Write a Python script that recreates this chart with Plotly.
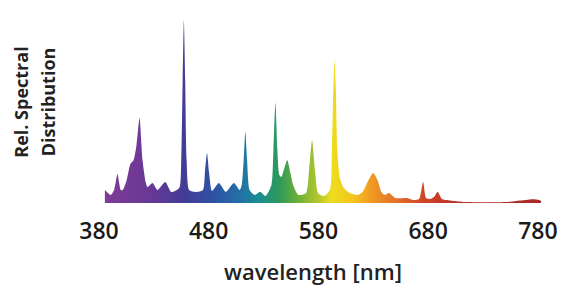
import plotly.graph_objects as go

# Wavelength (nm) and relative spectral distribution (peak = 100)
wavelength = [
    385.4, 390.8, 393.8, 396.9, 399.9, 401.7, 405.3, 408.6, 411.6, 414.3,
    417.0, 419.7, 422.5, 424.3, 428.8, 433.3, 440.5, 445.9, 453.2, 455.0,
    456.3, 457.4, 458.6, 459.9, 462.2, 468.5, 474.8, 476.7, 478.5, 480.3,
    483.0, 489.3, 495.6, 502.9, 508.3, 510.1, 511.9, 513.4, 515.0, 517.3,
    521.8, 527.0, 531.8, 537.2, 539.0, 540.8, 542.6, 544.4, 546.2, 548.9,
    551.6, 554.3, 557.0, 561.6, 568.8, 571.5, 574.2, 576.9, 579.6, 585.1,
    590.5, 592.3, 593.6, 594.7, 595.9, 597.2, 599.5, 603.1, 608.5, 615.8,
    620.3, 624.8, 629.9, 633.8, 637.4, 640.2, 644.4, 650.1, 660.9, 666.4,
    671.8, 675.4, 678.1, 681.7, 685.3, 688.7, 692.5, 697.1, 703.1, 715.1,
    733.2, 751.3, 760.3, 769.3, 775.4, 781.1, 782.9,
]
intensity = [
    7.1, 4.4, 7.1, 15.8, 7.1, 7.1, 12.6, 21.3, 23.5, 32.0,
    46.4, 23.5, 11.5, 8.7, 10.9, 7.1, 11.5, 6.0, 8.2, 23.5,
    67.2, 100.0, 67.2, 23.5, 7.1, 6.0, 7.1, 18.0, 27.3, 16.9,
    6.6, 10.9, 6.0, 10.9, 7.1, 9.8, 23.5, 39.0, 23.5, 7.1,
    4.4, 6.2, 3.8, 9.8, 29.0, 54.8, 29.0, 15.3, 14.2, 19.0,
    23.5, 17.0, 9.8, 4.4, 5.5, 18.0, 34.4, 18.0, 5.5, 3.8,
    7.1, 29.0, 61.7, 78.1, 61.7, 29.0, 13.7, 8.2, 5.5, 4.4,
    6.0, 11.5, 16.4, 12.6, 6.0, 4.4, 5.5, 2.7, 2.7, 1.6,
    2.2, 11.6, 2.7, 2.2, 3.3, 6.2, 2.2, 1.6, 1.1, 0.5,
    0.4, 0.5, 1.1, 1.6, 2.0, 1.6, 1.1,
]

tick_values = [380, 480, 580, 680, 780]
tick_labels = ["380", "480", "580", "680", "780"]

spectrum_colors = [
    [0.00, "#7d3c98"], [0.10, "#6a3896"], [0.18, "#433c96"],
    [0.25, "#2e52a4"], [0.31, "#2470a8"], [0.35, "#1a8c94"],
    [0.40, "#2e9a5a"], [0.44, "#6aae3a"], [0.49, "#b4c82c"],
    [0.52, "#eedd1e"], [0.57, "#f4c41e"], [0.61, "#f09a22"],
    [0.67, "#e4702a"], [0.73, "#ce4628"], [0.81, "#b8302a"],
    [1.00, "#a82a28"],
]

fig = go.Figure()
fig.add_trace(go.Scatter(
    x=wavelength, y=intensity, mode="lines",
    line=dict(width=0, color="rgba(0,0,0,0)", shape="spline", smoothing=0.6),
    fill="tozeroy",
    fillgradient=dict(type="horizontal", colorscale=spectrum_colors),
    hoverinfo="skip", showlegend=False,
))

font_main = "Open Sans"
fig.update_layout(
    width=570, height=300,
    margin=dict(l=95, r=18, t=15, b=95),
    paper_bgcolor="white", plot_bgcolor="white",
    xaxis=dict(
        range=[376.4, 789.2], tickvals=tick_values, ticktext=tick_labels,
        showgrid=False, zeroline=False, showline=False, ticks="",
        ticklabelstandoff=10,
        tickfont=dict(family=font_main, size=23, color="#1a1a1a", weight=600),
    ),
    yaxis=dict(range=[-1.09, 102.7], visible=False),
    annotations=[
        dict(text="wavelength [nm]", x=0.481, y=-0.347, xref="paper", yref="paper",
             showarrow=False, xanchor="center", yanchor="middle",
             font=dict(family=font_main, size=22, color="#222222", weight=600)),
        dict(text="Rel. Spectral", x=-0.164, y=0.542, xref="paper", yref="paper",
             showarrow=False, xanchor="center", yanchor="middle", textangle=-90,
             font=dict(family=font_main, size=18, color="#222222", weight=700)),
        dict(text="Distribution", x=-0.103, y=0.542, xref="paper", yref="paper",
             showarrow=False, xanchor="center", yanchor="middle", textangle=-90,
             font=dict(family=font_main, size=18, color="#222222", weight=700)),
    ],
)
fig.write_html("out.html")
